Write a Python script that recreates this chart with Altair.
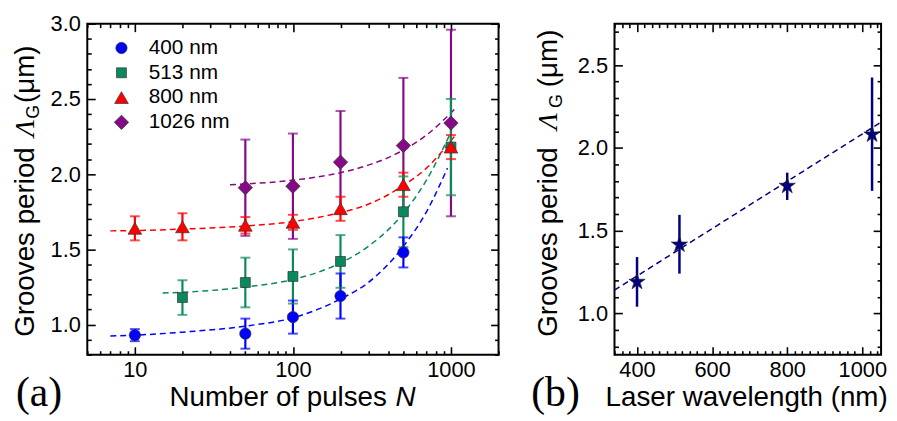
import altair as alt
import pandas as pd

# ---------------- data ----------------
series = ["400 nm", "513 nm", "800 nm", "1026 nm"]
colors = ["#0000ff", "#0a8a5c", "#ff0000", "#850a85"]
shapes = ["circle", "square", "triangle-up", "diamond"]
sizes = [130, 100, 190, 210]

n_400 = [10, 50, 100, 200, 500]
v_400 = [0.93, 0.94, 1.05, 1.19, 1.48]
e_400 = [0.04, 0.10, 0.11, 0.15, 0.10]

n_513 = [20, 50, 100, 200, 500, 1000]
v_513 = [1.18, 1.28, 1.32, 1.42, 1.75, 2.18]
e_513 = [0.115, 0.165, 0.18, 0.175, 0.235, 0.32]

n_800 = [10, 20, 50, 100, 200, 500, 1000]
v_800 = [1.64, 1.65, 1.66, 1.68, 1.77, 1.93, 2.18]
e_800 = [0.08, 0.09, 0.055, 0.05, 0.08, 0.08, 0.08]

n_1026 = [50, 100, 200, 500, 1000]
v_1026 = [1.91, 1.92, 2.08, 2.19, 2.34]
e_1026 = [0.32, 0.35, 0.34, 0.45, 0.62]

# dashed fit curves
fit_n_400 = [7, 10, 20, 50, 100, 200, 300, 500, 700, 950]
fit_v_400 = [0.925, 0.93, 0.95, 0.99, 1.045, 1.17, 1.28, 1.52, 1.75, 2.04]
fit_n_513 = [15, 20, 50, 100, 200, 300, 500, 700, 1000]
fit_v_513 = [1.21, 1.215, 1.25, 1.30, 1.41, 1.52, 1.74, 1.96, 2.28]
fit_n_800 = [7, 10, 20, 50, 100, 200, 300, 500, 700, 1050]
fit_v_800 = [1.623, 1.625, 1.635, 1.655, 1.685, 1.745, 1.80, 1.925, 2.04, 2.25]
fit_n_1026 = [40, 50, 100, 200, 300, 500, 700, 1050]
fit_v_1026 = [1.93, 1.935, 1.96, 2.01, 2.06, 2.16, 2.26, 2.43]

# panel (b)
wavelength = [400, 513, 800, 1026]
period_b = [1.19, 1.415, 1.77, 2.08]
period_b_lo = [1.04, 1.24, 1.685, 1.74]
period_b_hi = [1.34, 1.595, 1.85, 2.425]
fit_b_wl = [340, 1050]
fit_b_v = [1.14, 2.155]

# tick positions
a_x_major = [10, 100, 1000]
a_x_minor = [5, 6, 7, 8, 9, 20, 30, 40, 50, 60, 70, 80, 90,
             200, 300, 400, 500, 600, 700, 800, 900, 2000]
a_y_major = [1.0, 1.5, 2.0, 2.5, 3.0]
a_y_minor = [0.8, 0.9, 1.1, 1.2, 1.3, 1.4, 1.6, 1.7, 1.8, 1.9, 2.1, 2.2,
             2.3, 2.4, 2.6, 2.7, 2.8, 2.9]
b_x_major = [400, 600, 800, 1000]
b_x_minor = [340, 360, 380, 420, 440, 460, 480, 500, 520, 540, 560, 580,
             620, 640, 660, 680, 700, 720, 740, 760, 780, 820, 840, 860,
             880, 900, 920, 940, 960, 980, 1020, 1040]
b_y_major = [1.0, 1.5, 2.0, 2.5]
b_y_minor = [0.8, 0.9, 1.1, 1.2, 1.3, 1.4, 1.6, 1.7, 1.8, 1.9, 2.1, 2.2,
             2.3, 2.4, 2.6, 2.7]

# ---------------- tables ----------------
pts = []
for s, ns, vs, es in zip(series, [n_400, n_513, n_800, n_1026],
                         [v_400, v_513, v_800, v_1026],
                         [e_400, e_513, e_800, e_1026]):
    for n, v, e in zip(ns, vs, es):
        pts.append({"series": s, "N": n, "v": v, "lo": v - e, "hi": v + e})
df_pts = pd.DataFrame(pts)
order = {"1026 nm": 0, "800 nm": 1, "513 nm": 2, "400 nm": 3}
df_err = df_pts.assign(o=df_pts["series"].map(order)).sort_values("o")

fits = []
for s, ns, vs in zip(series, [fit_n_400, fit_n_513, fit_n_800, fit_n_1026],
                     [fit_v_400, fit_v_513, fit_v_800, fit_v_1026]):
    for n, v in zip(ns, vs):
        fits.append({"series": s, "N": n, "v": v})
df_fit = pd.DataFrame(fits)

df_b = pd.DataFrame({"wl": wavelength, "v": period_b, "lo": period_b_lo, "hi": period_b_hi})
df_bfit = pd.DataFrame({"wl": fit_b_wl, "v": fit_b_v})

# ---------------- helpers ----------------
FONT = "Liberation Sans"
SERIF = "Liberation Serif"
W_A, H_A = 415, 334
W_B, H_B = 269, 334
VIEW = alt.ViewBackground(stroke="black", strokeWidth=2)


def label_axis(orient, values, fmt):
    return alt.Axis(orient=orient, values=values, format=fmt, ticks=False, tickSize=0,
                    domain=False, grid=False, title=None, labelFont=FONT,
                    labelFontSize=22, labelColor="black",
                    labelPadding=7 if orient == "left" else 5)


def tick_axis(orient, values, size, offset):
    return alt.Axis(orient=orient, values=values, offset=offset, tickSize=size,
                    tickWidth=1.6, tickColor="black", labels=False, domain=False,
                    grid=False, title=None)


cscale = alt.Scale(domain=series, range=colors)
# separate (unlegended) scale for error bars / fit lines
lscale = alt.Scale(domain=series + ["-"], range=colors + ["black"])
shscale = alt.Scale(domain=series, range=shapes)
szscale = alt.Scale(type="ordinal", domain=series, range=sizes)

xs_a = alt.Scale(type="log", domain=[5, 2000], nice=False)
ys_a = alt.Scale(domain=[0.8, 3.0], nice=False, zero=False)


def xa(field, axis):
    return alt.X(field, type="quantitative", scale=xs_a, axis=axis)


def ya(field, axis):
    return alt.Y(field, type="quantitative", scale=ys_a, axis=axis)


stroke_enc = alt.Stroke("series:N", scale=lscale, legend=None)
fill_enc = alt.Fill("series:N", scale=lscale, legend=None)

lines_a = alt.Chart(df_fit).mark_line(strokeDash=[6, 4], strokeWidth=1.5,
                                       interpolate="monotone").encode(
    x=xa("N", label_axis("bottom", a_x_major, "d")),
    y=ya("v", label_axis("left", a_y_major, ".1f")),
    stroke=stroke_enc, detail="series:N")

rules_a = alt.Chart(df_err).mark_rule(strokeWidth=2.2).encode(
    x=xa("N", tick_axis("top", a_x_major, 8, -H_A)),
    y=ya("lo", tick_axis("right", a_y_major, 8, -W_A)),
    y2="hi", stroke=stroke_enc)

caps_lo = alt.Chart(df_err).mark_tick(orient="horizontal", size=10, thickness=2).encode(
    x=xa("N", tick_axis("top", a_x_minor, 4, -H_A)),
    y=ya("lo", tick_axis("right", a_y_minor, 4, -W_A)),
    fill=fill_enc)

caps_hi = alt.Chart(df_err).mark_tick(orient="horizontal", size=10, thickness=2).encode(
    x=xa("N", tick_axis("bottom", a_x_major, 8, -H_A)),
    y=ya("hi", tick_axis("left", a_y_major, 8, -W_A)),
    fill=fill_enc)

leg = alt.Legend(orient="none", legendX=24, legendY=14, title=None,
                 labelFont=FONT, labelFontSize=21, labelColor="black",
                 symbolSize=110, labelOffset=17, rowPadding=3,
                 padding=0, symbolStrokeWidth=0.7, symbolStrokeColor="#333333")

points_a = alt.Chart(df_pts).mark_point(filled=True, opacity=1, stroke="#333333",
                                        strokeWidth=0.7).encode(
    x=xa("N", tick_axis("bottom", a_x_minor, 4, -H_A)),
    y=ya("v", tick_axis("left", a_y_minor, 4, -W_A)),
    color=alt.Color("series:N", scale=cscale, legend=leg),
    shape=alt.Shape("series:N", scale=shscale, legend=leg),
    size=alt.Size("series:N", scale=szscale, legend=leg))

one = pd.DataFrame({"k": [0]})


def txt(text, x, y, size=28, angle=0, align="left", baseline="alphabetic",
        font=FONT, style="normal"):
    return alt.Chart(one).mark_text(text=text, fontSize=size, angle=angle, align=align,
                                    baseline=baseline, font=font, fontStyle=style,
                                    color="black").encode(x=alt.value(x), y=alt.value(y))


texts_a = [
    txt("Grooves period", -62, 316, angle=270, baseline="middle"),
    txt("\u039b", -62, 114, angle=270, baseline="middle", style="italic", font=SERIF),
    txt("G", -54, 96, size=18, angle=270, baseline="middle"),
    txt("(\u03bcm)", -62, 80, angle=270, baseline="middle"),
    txt("Number of pulses", 83, 386),
    txt("N", 311, 386, style="italic"),
    txt("(a)", -72, 386, size=42, font=SERIF),
]

panel_a = alt.layer(lines_a, rules_a, caps_lo, caps_hi, points_a, *texts_a).resolve_axis(
    x="independent", y="independent").properties(width=W_A, height=H_A, view=VIEW)

# ---------------- panel (b) ----------------
xs_b = alt.Scale(domain=[340, 1050], nice=False, zero=False)
ys_b = alt.Scale(domain=[0.75, 2.75], nice=False, zero=False)
NAVY = "#000080"
star = ("M0,-1L0.2245,-0.309L0.951,-0.309L0.363,0.118L0.588,0.809L0,0.382"
        "L-0.588,0.809L-0.363,0.118L-0.951,-0.309L-0.2245,-0.309Z")


def xb(field, axis):
    return alt.X(field, type="quantitative", scale=xs_b, axis=axis)


def yb(field, axis):
    return alt.Y(field, type="quantitative", scale=ys_b, axis=axis)


line_b = alt.Chart(df_bfit).mark_line(strokeDash=[6, 4], strokeWidth=1.5, color=NAVY).encode(
    x=xb("wl", label_axis("bottom", b_x_major, "d")),
    y=yb("v", label_axis("left", b_y_major, ".1f")))

rule_b = alt.Chart(df_b).mark_rule(strokeWidth=2.5, color=NAVY).encode(
    x=xb("wl", tick_axis("top", b_x_major, 8, -H_B)),
    y=yb("lo", tick_axis("right", b_y_major, 8, -W_B)),
    y2="hi")

star_b = alt.Chart(df_b).mark_point(shape=star, filled=True, size=300, fill=NAVY,
                                    stroke="#222222", strokeWidth=0.6, opacity=1).encode(
    x=xb("wl", tick_axis("top", b_x_minor, 4, -H_B)),
    y=yb("v", tick_axis("right", b_y_minor, 4, -W_B)))

carrier1 = alt.Chart(df_b).mark_point(opacity=0).encode(
    x=xb("wl", tick_axis("bottom", b_x_major, 8, -H_B)),
    y=yb("v", tick_axis("left", b_y_major, 8, -W_B)))

carrier2 = alt.Chart(df_b).mark_point(opacity=0).encode(
    x=xb("wl", tick_axis("bottom", b_x_minor, 4, -H_B)),
    y=yb("v", tick_axis("left", b_y_minor, 4, -W_B)))

texts_b = [
    txt("Grooves period", -66, 316, angle=270, baseline="middle"),
    txt("\u039b", -66, 107, angle=270, baseline="middle", style="italic", font=SERIF),
    txt("G", -58, 85, size=18, angle=270, baseline="middle"),
    txt("(\u03bcm)", -66, 64, angle=270, baseline="middle"),
    txt("Laser wavelength (nm)", -9, 386),
    txt("(b)", -84, 386, size=42, font=SERIF),
]

panel_b = alt.layer(line_b, rule_b, star_b, carrier1, carrier2, *texts_b).resolve_axis(
    x="independent", y="independent").properties(width=W_B, height=H_B, view=VIEW)

chart = alt.hconcat(panel_a, panel_b, spacing=30).resolve_scale(
    color="independent", shape="independent", size="independent",
    stroke="independent", fill="independent").resolve_legend(
    color="independent", shape="independent", size="independent").properties(
    padding={"left": 3, "top": 2, "right": 0, "bottom": 0}, background="white"
).configure_view(stroke="black", strokeWidth=2).configure_legend(
    labelFontSize=21, labelFont=FONT, labelColor="black")

chart.save("out.html", embed_options={"renderer": "svg", "actions": False})
